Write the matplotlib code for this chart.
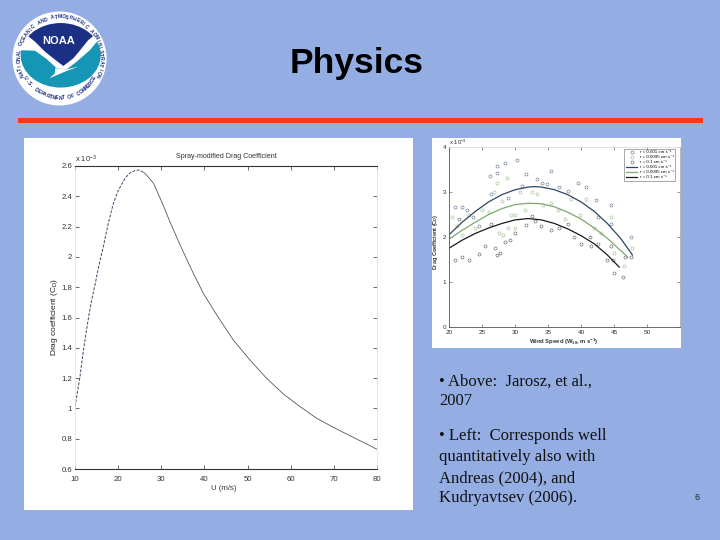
import numpy as np
import matplotlib
matplotlib.use("Agg")
import matplotlib.pyplot as plt
from matplotlib.patches import Circle, Ellipse, Polygon, Rectangle

# ---- left chart data
u_ms = [10, 11.16, 11.8, 12.55, 13.3, 14.1, 14.64, 15.4, 16.56, 17.7, 18.9, 20.0, 21.6, 22.4, 23.1, 24.7, 25.5,
        26.2, 27.2, 28.2, 30.1, 32, 34.5, 37.05, 39.74, 42.85, 46.7, 50.56, 54.4, 58.3, 62.2, 66, 69.9, 73.7, 77.6, 80]
cd_spray = [1.011, 1.21, 1.352, 1.496, 1.628, 1.748, 1.815, 1.925, 2.067, 2.22, 2.354, 2.437, 2.519, 2.545, 2.562,
            2.574, 2.565, 2.552, 2.52, 2.486, 2.364, 2.232, 2.07, 1.914, 1.76, 1.617, 1.451, 1.319, 1.199, 1.095,
            1.011, 0.935, 0.875, 0.82, 0.765, 0.73]
left_xticks = [10, 20, 30, 40, 50, 60, 70, 80]
left_yticks = [0.6, 0.8, 1.0, 1.2, 1.4, 1.6, 1.8, 2.0, 2.2, 2.4, 2.6]
left_ylabels = ["0.6", "0.8", "1", "1.2", "1.4", "1.6", "1.8", "2", "2.2", "2.4", "2.6"]

# ---- right chart data
pts1_x = [20.9, 21.9, 22.8, 23.6, 26.2, 27.2, 27.2, 28.5, 30.3, 31.7, 33.4, 35.4, 36.7, 39.6, 40.8,
          42.2, 44.5, 47.6, 31.1, 28.9, 26.3, 34.1, 34.9, 38.1, 44.5, 42.5, 24.5]
pts1_y = [2.66, 2.66, 2.59, 2.45, 3.35, 3.58, 3.43, 3.64, 3.72, 3.39, 3.28, 3.46, 3.11, 3.21, 3.12,
          2.82, 2.72, 2.0, 3.13, 2.87, 2.95, 3.2, 3.17, 3.03, 2.3, 2.45, 2.25]
pts2_x = [20.4, 21.2, 22, 23, 24, 25, 26, 26.8, 27.3, 28, 28.8, 29.4, 30, 30.8, 31.5, 32.5, 33.4, 34.3,
          35.5, 36.5, 37.5, 38.5, 39.8, 40.8, 42, 43, 44.5, 45, 46.5, 47.7, 27.5, 28.2, 29, 30]
pts2_y = [2.45, 2.25, 2.05, 2.48, 2.2, 2.6, 2.55, 3.0, 3.2, 2.8, 3.3, 2.5, 2.2, 3.0, 2.6, 3.0, 2.95, 2.7,
          2.75, 2.6, 2.4, 2.85, 2.5, 2.85, 2.2, 2.1, 2.45, 1.65, 1.35, 1.75, 2.1, 2.05, 2.2, 2.5]
pts3_x = [20.9, 21.5, 22, 23, 24.6, 25.5, 26.3, 27, 27.3, 27.8, 28.5, 29.3, 30, 31.6, 32.5, 33, 34, 35.5,
          36.7, 38, 39, 40, 41.3, 41.5, 42.5, 44, 44.8, 45, 46.3, 46.6, 47.6, 44.5]
pts3_y = [1.5, 2.4, 1.55, 1.5, 1.62, 1.8, 2.3, 1.75, 1.6, 1.65, 1.9, 1.93, 2.1, 2.27, 2.47, 2.35, 2.25, 2.15,
          2.2, 2.3, 2.0, 1.85, 2.0, 1.8, 1.85, 1.5, 1.5, 1.2, 1.12, 1.55, 1.55, 1.8]
fit1_x = [20, 22, 24, 26, 28, 30, 32, 33, 34, 36, 38, 40, 42, 44, 46, 47.8]
fit1_y = [2.05, 2.33, 2.57, 2.78, 2.94, 3.05, 3.11, 3.12, 3.11, 3.05, 2.94, 2.78, 2.57, 2.3, 1.97, 1.6]
fit2_x = [20, 22, 24, 26, 28, 30, 32, 34, 36, 38, 40, 42, 44, 46, 47.1]
fit2_y = [1.95, 2.15, 2.33, 2.5, 2.63, 2.72, 2.75, 2.74, 2.67, 2.55, 2.4, 2.2, 1.97, 1.7, 1.55]
fit3_x = [20, 22, 24, 26, 28, 30, 32, 34, 36, 38, 40, 42, 44, 45.8]
fit3_y = [1.75, 1.93, 2.08, 2.2, 2.3, 2.38, 2.41, 2.38, 2.3, 2.18, 2.03, 1.85, 1.6, 1.33]
series_labels = ["r = 0.001 cm s\u207b\u00b9", "r = 0.0095 cm s\u207b\u00b9", "r = 0.1 cm s\u207b\u00b9"]
right_xticks = [20, 25, 30, 35, 40, 45, 50]
right_yticks = [0, 1, 2, 3, 4]

plt.rcParams["font.family"] = ["Liberation Sans", "DejaVu Sans"]
plt.rcParams["mathtext.fontset"] = "custom"
plt.rcParams["mathtext.rm"] = "Liberation Sans"
plt.rcParams["mathtext.default"] = "regular"

W, H = 720, 540
BG = "#94AEE4"
fig = plt.figure(figsize=(7.2, 5.4), dpi=100, facecolor=BG)


def box(x0, y0, x1, y1):
    return [x0 / W, 1 - y1 / H, (x1 - x0) / W, (y1 - y0) / H]


# ---- slide layer in pixel coordinates
bgax = fig.add_axes([0, 0, 1, 1], zorder=0)
bgax.set_xlim(0, W)
bgax.set_ylim(H, 0)
bgax.axis("off")
bgax.add_patch(Rectangle((18, 117.5), 685, 5.5, color="#E8401C", lw=0))
bgax.add_patch(Rectangle((24, 138), 389, 372, color="white", lw=0))
bgax.add_patch(Rectangle((432, 138), 249, 210, color="white", lw=0))
bgax.text(357, 64, "Physics", fontsize=25.5, fontweight="bold", ha="center", va="center", color="black")

TXT = dict(family="Liberation Serif", fontsize=12.0, color="#111111", va="center", ha="left")
for y, line in [(382, "\u2022 Above:  Jarosz, et al.,"), (401, "2007"),
                (436, "\u2022 Left:  Corresponds well"), (457, "quantitatively also with"),
                (478, "Andreas (2004), and"), (498, "Kudryavtsev (2006).")]:
    bgax.text(439, y, line, **TXT)
bgax.text(697, 497, "6", fontsize=6.5, ha="center", va="center", color="#222222")


# ---- NOAA logo (shapes traced in a 3x crop whose origin is at pixel 10,10)
def lg(points):
    return [(10 + x / 3, 10 + y / 3) for x, y in points]


bgax.add_patch(Circle((59.5, 58.5), 47, color="white", lw=0))
inner = Ellipse((60.7, 55.3), 80, 64.5, transform=bgax.transData)
teal = Polygon(lg([(0, 120), (75, 122), (110, 147), (140, 175), (170, 178), (200, 155), (240, 120), (265, 90),
                   (295, 90), (295, 250), (0, 250)]), color="#1496B4", lw=0)
bgax.add_patch(teal)
teal.set_clip_path(inner)
bgax.add_patch(Polygon(lg([(135, 175), (170, 178), (205, 170), (165, 185), (118, 205), (135, 190)]), color="white", lw=0))
navy = Polygon(lg([(30, 20), (270, 20), (270, 72), (258, 72), (235, 90), (215, 115), (190, 145), (160, 168),
                   (130, 145), (105, 125), (75, 95), (50, 75), (30, 70)]), color="#1B2F85", lw=0)
bgax.add_patch(navy)
navy.set_clip_path(inner)
bgax.text(58.5, 41, "NOAA", fontsize=8, fontweight="bold", color="white", ha="center", va="center")


def ring(text, start, end, r, flip=False):
    angs = np.linspace(start, end, len(text))
    for ch, a in zip(text, angs):
        t = np.deg2rad(a)
        rot = (a - 90) if not flip else (a + 90)
        bgax.text(60 + r * np.cos(t), 58 - r * np.sin(t), ch, fontsize=3.6, color="#1B2F85",
                  ha="center", va="center", rotation=rot, fontweight="bold")


ring("NATIONAL OCEANIC AND ATMOSPHERIC ADMINISTRATION", 205, -25, 41)
ring("U.S. DEPARTMENT OF COMMERCE", 210, 330, 40, flip=True)

# ---- left chart
ax = fig.add_axes(box(75, 166, 377, 469), zorder=2)
ax.patch.set_alpha(0)
ax.plot(u_ms[:17], cd_spray[:17], color="#444466", lw=0.7, ls=(0, (3, 1.5)))
ax.plot(u_ms[16:], cd_spray[16:], color="#555566", lw=0.6)
ax.set_xlim(10, 80)
ax.set_ylim(0.6, 2.6)
ax.set_xticks(left_xticks)
ax.set_yticks(left_yticks, left_ylabels)
ax.tick_params(direction="in", length=3, width=0.5, top=True, right=True, labelsize=5.6,
               color="#333333", labelcolor="#333333")
ax.tick_params(axis="x", pad=5)
ax.tick_params(axis="y", pad=2)
for s, (c, lw) in {"top": ("#333333", 0.8), "bottom": ("#333333", 0.8),
                   "left": ("#dddddd", 0.5), "right": ("#dddddd", 0.5)}.items():
    ax.spines[s].set_color(c)
    ax.spines[s].set_linewidth(lw)
bgax.text(226, 156, "Spray-modified Drag Coefficient", fontsize=5.1, ha="center", va="center", color="#333333")
bgax.text(224, 488, "U (m/s)", fontsize=5.6, ha="center", va="center", color="#333333")
bgax.text(54, 317, "Drag coefficient (C$_D$)", fontsize=6.0, rotation=90, ha="center", va="center", color="#222222")
bgax.text(75, 159, "x 10$^{-3}$", fontsize=5.4, ha="left", va="center", color="#333333")

# ---- right chart
ax2 = fig.add_axes(box(449, 147, 680, 327), zorder=2)
ax2.patch.set_alpha(0)
ms = 2.2
h1, = ax2.plot(pts1_x, pts1_y, "o", mfc="none", mec="#5A6A8A", mew=0.4, ms=ms, label=series_labels[0])
h2, = ax2.plot(pts2_x, pts2_y, "o", mfc="none", mec="#A9C79C", mew=0.5, ms=ms, label=series_labels[1])
h3, = ax2.plot(pts3_x, pts3_y, "o", mfc="none", mec="#555555", mew=0.4, ms=ms, label=series_labels[2])
l1, = ax2.plot(fit1_x, fit1_y, color="#2E4660", lw=0.9, label=series_labels[0])
l2, = ax2.plot(fit2_x, fit2_y, color="#7FA96F", lw=0.9, label=series_labels[1])
l3, = ax2.plot(fit3_x, fit3_y, color="#1A1A1A", lw=0.9, label=series_labels[2])
ax2.set_xlim(20, 55)
ax2.set_ylim(0, 4)
ax2.set_xticks(right_xticks)
ax2.set_yticks(right_yticks)
ax2.tick_params(direction="in", length=2, width=0.4, top=True, right=True, labelsize=4.6, pad=2,
                color="#444444", labelcolor="#333333")
for s in ax2.spines.values():
    s.set_color("#555555")
    s.set_linewidth(0.6)
ax2.spines["right"].set_color("#aaaaaa")
ax2.spines["top"].set_color("#dddddd")
leg = ax2.legend(handles=[h1, h2, h3, l1, l2, l3], loc="upper right", fontsize=3.2, frameon=True,
                 fancybox=False, edgecolor="#666666", framealpha=1, borderpad=0.35, labelspacing=0.2,
                 handlelength=2.6, handletextpad=0.6, bbox_to_anchor=(0.98, 0.99), borderaxespad=0)
leg.get_frame().set_linewidth(0.4)
bgax.text(564, 342, "Wind Speed (W$_{10}$, m s$^{-1}$)", fontsize=4.2, fontweight="bold", ha="center", va="center", color="#333333")
bgax.text(435.5, 242, "Drag Coefficient (C$_D$)", fontsize=4.0, fontweight="bold", rotation=90, ha="center", va="center", color="#333333")
bgax.text(449, 142.5, "x 10$^{-3}$", fontsize=4.3, ha="left", va="center", color="#333333")

fig.savefig("out.png", dpi=100, facecolor=BG)
